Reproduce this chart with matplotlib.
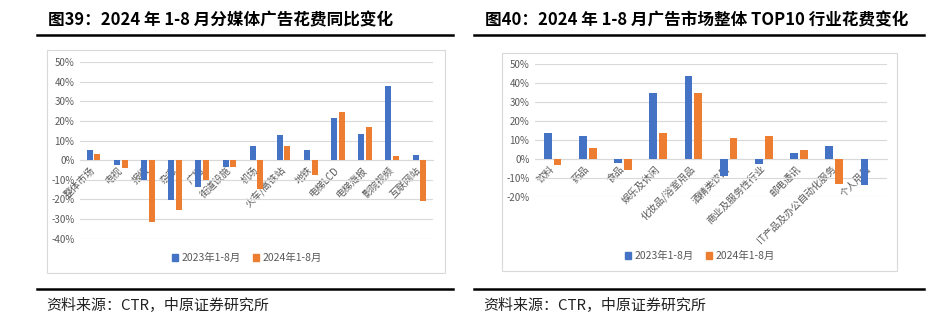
import numpy as np
import matplotlib
matplotlib.use("Agg")
from matplotlib import pyplot as plt
from matplotlib.lines import Line2D
from matplotlib.patches import Rectangle, Patch
from matplotlib.ticker import FuncFormatter

plt.rcParams['font.family'] = ['Noto Sans CJK SC', 'DejaVu Sans']

# 图39 data
media = ['整体市场', '电视', '报纸', '杂志', '广播', '街道设施', '机场',
         '火车/高铁站', '地铁', '电梯LCD', '电梯海报', '影院视频', '互联网站']
media_2023 = [5.4, -2.4, -10.2, -20.4, -13.6, -3.6, 7.0, 12.8, 5.1, 21.3, 13.1, 37.8, 2.6]
media_2024 = [3.1, -4.1, -31.6, -25.2, -10.2, -3.7, -14.6, 7.3, -7.5, 24.5, 17.0, 1.9, -20.7]

# 图40 data
industry = ['饮料', '药品', '食品', '娱乐及休闲', '化妆品/浴室用品', '酒精类饮品',
            '商业及服务性行业', '邮电通讯', 'IT产品及办公自动化服务', '个人用品']
industry_2023 = [13.9, 12.1, -2.1, 34.9, 43.7, -8.9, -2.8, 3.0, 6.8, -13.5]
industry_2024 = [-3.0, 5.8, -5.6, 13.7, 34.9, 11.1, 11.9, 4.6, -13.0, 0.0]

series_names = ['2023年1-8月', '2024年1-8月']
blue = '#4472C4'
orange = '#ED7D31'
grid_col = '#D9D9D9'
text_col = '#595959'

W, H = 947, 327
fig = plt.figure(figsize=(W / 100, H / 100), dpi=100)


def px_axes(x0, y0, x1, y1):
    return fig.add_axes([x0 / W, 1 - y1 / H, (x1 - x0) / W, (y1 - y0) / H])


def fig_line(x0, x1, y, lw):
    fig.add_artist(Line2D([x0 / W, x1 / W], [1 - y / H, 1 - y / H], color='black',
                          lw=lw, transform=fig.transFigure))


def frame(x0, y0, x1, y1):
    fig.add_artist(Rectangle((x0 / W, 1 - y1 / H), (x1 - x0) / W, (y1 - y0) / H,
                             fill=False, edgecolor=grid_col, lw=0.8,
                             transform=fig.transFigure))


def fit_text(x, y, s, width, **kw):
    t = fig.text(x / W, 1 - y / H, s, va='center', ha='left', **kw)
    r = fig.canvas.get_renderer()
    w = t.get_window_extent(renderer=r).width
    t.set_fontsize(t.get_fontsize() * width / w)
    return t


def bar_chart(ax, cats, v1, v2, ylim, step):
    x = np.arange(len(cats))
    ax.bar(x - 0.14, np.array(v1) / 100, width=0.22, color=blue, zorder=3)
    ax.bar(x + 0.14, np.array(v2) / 100, width=0.22, color=orange, zorder=3)
    ax.set_xlim(-0.5, len(cats) - 0.5)
    ax.set_ylim(ylim[0] / 100, ylim[1] / 100)
    ax.set_yticks(np.arange(ylim[0], ylim[1] + 1, step) / 100)
    ax.yaxis.set_major_formatter(FuncFormatter(lambda v, p: '%d%%' % round(v * 100)))
    ax.grid(axis='y', color=grid_col, lw=0.8, zorder=0)
    for s in ['top', 'right', 'left']:
        ax.spines[s].set_visible(False)
    ax.spines['bottom'].set_position(('data', 0))
    ax.spines['bottom'].set_color(grid_col)
    ax.spines['bottom'].set_linewidth(0.8)
    ax.set_xticks(x)
    ax.set_xticklabels(cats, rotation=45, ha='right', va='center',
                       rotation_mode='anchor', fontsize=7, color=text_col)
    ax.tick_params(axis='x', length=0, pad=6)
    ax.tick_params(axis='y', length=0, labelsize=7, labelcolor=text_col, pad=4)
    ax.set_facecolor('none')


# left panel
frame(47, 50, 445, 273)
ax1 = px_axes(80, 62, 433, 238.7)
bar_chart(ax1, media, media_2023, media_2024, (-40, 50), 10)

# right panel
frame(502, 53, 897, 271)
ax2 = px_axes(535, 64, 887, 197)
bar_chart(ax2, industry, industry_2023, industry_2024, (-20, 50), 10)

handles = [Patch(color=blue), Patch(color=orange)]
for cx, cy in [(247, 258), (700, 256)]:
    fig.legend(handles, series_names, loc='center', bbox_to_anchor=(cx / W, 1 - cy / H),
               ncol=2, frameon=False, fontsize=7.5, labelcolor=text_col,
               handlelength=0.6, handleheight=0.6, handletextpad=0.3, columnspacing=1.2)

# titles, rules and sources
fit_text(48, 20.5, '图39：2024 年 1-8 月分媒体广告花费同比变化', 344, fontweight='bold', fontsize=11)
fit_text(485, 20.5, '图40：2024 年 1-8 月广告市场整体 TOP10 行业花费变化', 422, fontweight='bold', fontsize=11)
fig_line(37, 453, 34.5, 1.8)
fig_line(474, 924, 34.5, 1.8)
fig_line(37, 453, 289, 1.8)
fig_line(474, 924, 289, 1.8)
fit_text(46, 305.5, '资料来源：CTR，中原证券研究所', 222, fontsize=10, color='#222222')
fit_text(483, 305.5, '资料来源：CTR，中原证券研究所', 222, fontsize=10, color='#222222')

fig.savefig('out.png', dpi=100)
